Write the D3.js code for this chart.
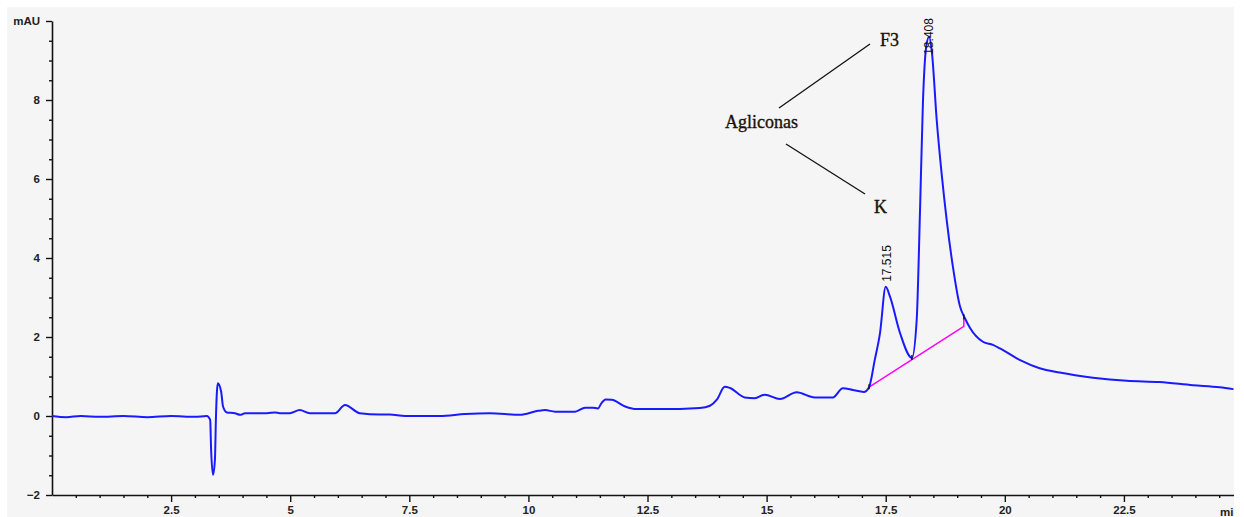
<!DOCTYPE html>
<html>
<head>
<meta charset="utf-8">
<script src="https://cdn.jsdelivr.net/npm/d3@7"></script>
<style>
  html, body { margin: 0; padding: 0; background: #fff; }
  svg { display: block; }
  .tick text { font-family: "Liberation Sans", Arial, sans-serif; font-weight: bold; font-size: 11.5px; fill: #222; }
  .note { font-family: "Liberation Serif", "Times New Roman", serif; font-size: 18px; fill: #1a1208; stroke: #1a1208; stroke-width: 0.35px; }
</style>
</head>
<body>
<svg width="1244" height="517"></svg>
<script>
// retention time (min) and absorbance (mAU)
const times = [0, 0.3, 0.6, 1.0, 1.5, 2.0, 2.5, 3.0, 3.25, 3.32, 3.34, 3.38, 3.42, 3.44, 3.46, 3.48,
  3.55, 3.59, 3.67, 3.84, 3.95, 4.05, 4.51, 4.68, 4.78, 4.99, 5.2, 5.41, 5.94, 6.15, 6.46, 6.88,
  7.09, 7.41, 8.14, 8.67, 9.19, 9.82, 10.2, 10.35, 10.56, 10.98, 11.19, 11.35, 11.46, 11.53, 11.62, 11.75,
  12.03, 12.23, 12.76, 13.18, 13.6, 13.81, 13.96, 14.12, 14.23, 14.54, 14.75, 14.96, 15.28, 15.63,
  16.01, 16.39, 16.6, 16.81, 17.04, 17.15, 17.27, 17.38, 17.5, 17.59, 17.8, 18.05, 18.15, 18.22,
  18.28, 18.35, 18.41, 18.47, 18.57, 18.68, 18.78, 18.91, 19.06, 19.16, 19.27, 19.54, 19.75, 19.9,
  20.31, 20.73, 21.15, 21.85, 22.56, 23.25, 23.95, 24.51, 24.8];
const mau = [0, -0.03, 0, -0.02, 0, -0.03, 0, -0.02, 0, -0.1, -0.86, -1.49, -1.1, -0.1, 0.58, 0.83,
  0.62, 0.24, 0.09, 0.07, 0.03, 0.07, 0.07, 0.09, 0.07, 0.07, 0.15, 0.07, 0.07, 0.28, 0.07, 0.04,
  0.04, 0.0, 0.0, 0.05, 0.07, 0.03, 0.13, 0.15, 0.11, 0.11, 0.21, 0.21, 0.19, 0.32, 0.42, 0.41,
  0.24, 0.18, 0.18, 0.18, 0.2, 0.26, 0.42, 0.74, 0.71, 0.47, 0.45, 0.54, 0.43, 0.6,
  0.47, 0.47, 0.7, 0.66, 0.61, 0.73, 1.42, 2.1, 3.27, 3.02, 2.1, 1.47, 2.43, 5.2,
  7.9, 9.35, 9.6, 9.2, 7.5, 6.06, 4.96, 3.78, 2.77, 2.48, 2.23, 1.88, 1.8, 1.71,
  1.42, 1.21, 1.1, 0.97, 0.89, 0.86, 0.78, 0.73, 0.68];

// integration baseline under the two peaks
const baseT = [17.15, 18.05, 19.14, 19.14];
const baseV = [0.73, 1.43, 2.27, 2.48];

const peakT = [17.515, 18.408];
const peakV = [3.27, 9.6];
const peakLabels = ['17.515', '18.408'];

const xTicks = [2.5, 5, 7.5, 10, 12.5, 15, 17.5, 20, 22.5];
const yTicks = [-2, 0, 2, 4, 6, 8, 10];

const svg = d3.select('svg');

svg.append('rect')
  .attr('x', 7).attr('y', 7)
  .attr('width', 1227).attr('height', 510)
  .attr('fill', '#f5f5f5');

const x = d3.scaleLinear().domain([0, 24.8]).range([52, 1233.5]);
const y = d3.scaleLinear().domain([-2, 10]).range([495, 21]);

const fmt = d3.format('~f');

// minor ticks first, majors over them
const xMinor = d3.range(0.5, 24.8, 0.5).filter(v => xTicks.indexOf(v) === -1);
svg.append('g')
  .attr('transform', 'translate(0,495)')
  .call(d3.axisBottom(x).tickValues(xMinor).tickSize(3).tickFormat(''))
  .call(g => g.select('.domain').remove())
  .call(g => g.selectAll('line').attr('stroke', '#111').attr('stroke-width', 1.4));

svg.append('g')
  .attr('transform', 'translate(0,495)')
  .call(d3.axisBottom(x).tickValues(xTicks).tickSize(7).tickSizeOuter(0).tickPadding(4).tickFormat(fmt))
  .call(g => g.select('.domain').attr('stroke', '#111').attr('stroke-width', 1.6))
  .call(g => g.selectAll('line').attr('stroke', '#111').attr('stroke-width', 1.4));

const yMinor = d3.range(-1.5, 10, 0.5).filter(v => yTicks.indexOf(v) === -1);
svg.append('g')
  .attr('transform', 'translate(52,0)')
  .call(d3.axisLeft(y).tickValues(yMinor).tickSize(3).tickFormat(''))
  .call(g => g.select('.domain').remove())
  .call(g => g.selectAll('line').attr('stroke', '#111').attr('stroke-width', 1.4));

svg.append('g')
  .attr('transform', 'translate(52,0)')
  .call(d3.axisLeft(y).tickValues(yTicks).tickSize(6).tickSizeOuter(0).tickPadding(6)
    .tickFormat(d => (d === 10 ? 'mAU' : fmt(d))))
  .call(g => g.select('.domain').attr('stroke', '#111').attr('stroke-width', 1.6))
  .call(g => g.selectAll('line').attr('stroke', '#111').attr('stroke-width', 1.4));

// axis unit, cut by the frame edge like in the export
svg.append('clipPath').attr('id', 'frame')
  .append('rect').attr('x', 7).attr('y', 7).attr('width', 1227).attr('height', 510);
svg.append('text')
  .attr('clip-path', 'url(#frame)')
  .attr('x', 1220).attr('y', 516)
  .attr('font-family', '"Liberation Sans", Arial, sans-serif')
  .attr('font-weight', 'bold').attr('font-size', 11.5).attr('fill', '#222')
  .text('min');

const pts = times.map((t, i) => [t, mau[i]]);
const line = d3.line().x(d => x(d[0])).y(d => y(d[1])).curve(d3.curveMonotoneX);

svg.append('path')
  .datum(baseT.map((t, i) => [t, baseV[i]]))
  .attr('d', d3.line().x(d => x(d[0])).y(d => y(d[1])))
  .attr('fill', 'none').attr('stroke', '#ff00ff').attr('stroke-width', 1.5);

svg.append('path')
  .datum(pts)
  .attr('d', line)
  .attr('fill', 'none').attr('stroke', '#1a1aff').attr('stroke-width', 2)
  .attr('stroke-linejoin', 'round');

// small black markers at the integration start / valley / end
const marks = [[17.15, 0.73], [18.05, 1.47], [19.14, 2.5]];
svg.append('g').selectAll('line').data(marks).join('line')
  .attr('x1', d => x(d[0])).attr('x2', d => x(d[0]))
  .attr('y1', d => y(d[1]) - 3).attr('y2', d => y(d[1]) + 2)
  .attr('stroke', '#111').attr('stroke-width', 1.3);

svg.append('g').selectAll('text').data(peakT).join('text')
  .attr('transform', (d, i) => `translate(${x(d)},${y(peakV[i]) - (i === 0 ? 5 : -18)}) rotate(-90)`)
  .attr('dy', '0.35em')
  .attr('font-family', '"Liberation Sans", Arial, sans-serif')
  .attr('font-size', 12).attr('fill', '#111')
  .text((d, i) => peakLabels[i]);

// annotations
svg.append('text').attr('class', 'note').attr('x', 725).attr('y', 128).text('Agliconas');
svg.append('text').attr('class', 'note').attr('x', 880).attr('y', 46).text('F3');
svg.append('text').attr('class', 'note').attr('x', 874).attr('y', 213).text('K');
svg.append('line').attr('x1', 779).attr('y1', 108).attr('x2', 870).attr('y2', 44)
  .attr('stroke', '#111').attr('stroke-width', 1.3);
svg.append('line').attr('x1', 786).attr('y1', 144).attr('x2', 865).attr('y2', 194)
  .attr('stroke', '#111').attr('stroke-width', 1.3);
</script>
</body>
</html>
